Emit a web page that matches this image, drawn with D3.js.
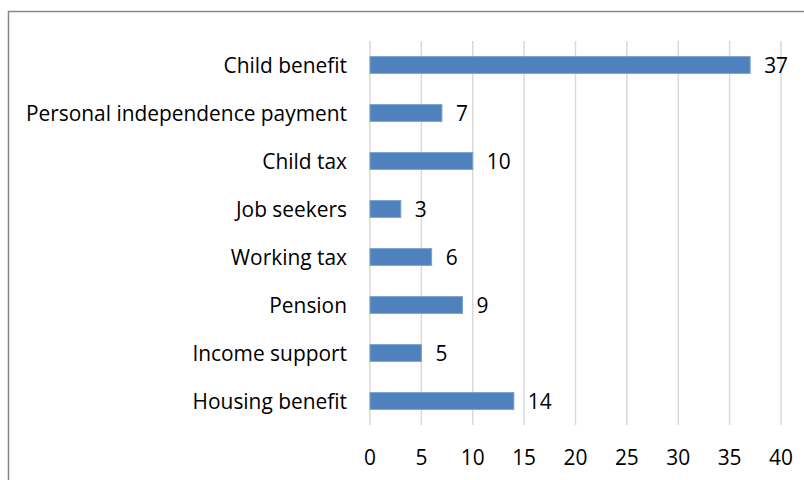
<!DOCTYPE html>
<html><head><meta charset="utf-8">
<script src="https://cdn.jsdelivr.net/npm/d3@7"></script>
<style>body{margin:0;background:#fff}svg{display:block}</style>
</head><body>
<script>
const categories = ["Child benefit","Personal independence payment","Child tax","Job seekers","Working tax","Pension","Income support","Housing benefit"];
const values = [37,7,10,3,6,9,5,14];
const ticks = [0,5,10,15,20,25,30,35,40];

const W=804,H=480;
const svg=d3.select("body").append("svg").attr("width",W).attr("height",H);
svg.append("rect").attr("width",W).attr("height",H).attr("fill","#fff");
// chart border
svg.append("path").attr("d","M8.5,"+(H+5)+"V11.5H"+(W+5)).attr("fill","none").attr("stroke","#868686").attr("stroke-width",1.5);

const x=d3.scaleLinear().domain([0,40]).range([370,781]);
const y=d3.scaleBand().domain(categories).range([41,425]).paddingInner(0.65).paddingOuter(0.325);
const font="'Open Sans', sans-serif";
const fs=20.9;

svg.append("g").selectAll("line").data(ticks).join("line")
  .attr("x1",d=>x(d)).attr("x2",d=>x(d)).attr("y1",41).attr("y2",425)
  .attr("stroke","#d9d9d9").attr("stroke-width",1.5);

svg.append("g").selectAll("rect").data(values).join("rect")
  .attr("x",x(0)).attr("y",(d,i)=>y(categories[i]))
  .attr("width",d=>x(d)-x(0)).attr("height",y.bandwidth())
  .attr("fill","#4f81bd").attr("stroke","#7ba0d2").attr("stroke-width",1);

svg.append("g").selectAll("text").data(values).join("text")
  .attr("x",d=>x(d)+14).attr("y",(d,i)=>y(categories[i])+y.bandwidth()/2)
  .attr("dy","0.36em").attr("font-family",font).attr("font-size",fs).attr("fill","#000")
  .text(d=>d);

svg.append("g").selectAll("text").data(categories).join("text")
  .attr("x",347).attr("y",d=>y(d)+y.bandwidth()/2).attr("dy","0.36em")
  .attr("text-anchor","end").attr("font-family",font).attr("font-size",fs).attr("fill","#000")
  .text(d=>d);

svg.append("g").selectAll("text").data(ticks).join("text")
  .attr("x",d=>x(d)).attr("y",457).attr("dy","0.36em").attr("text-anchor","middle")
  .attr("font-family",font).attr("font-size",fs).attr("fill","#000").text(d=>d);
</script>
</body></html>
